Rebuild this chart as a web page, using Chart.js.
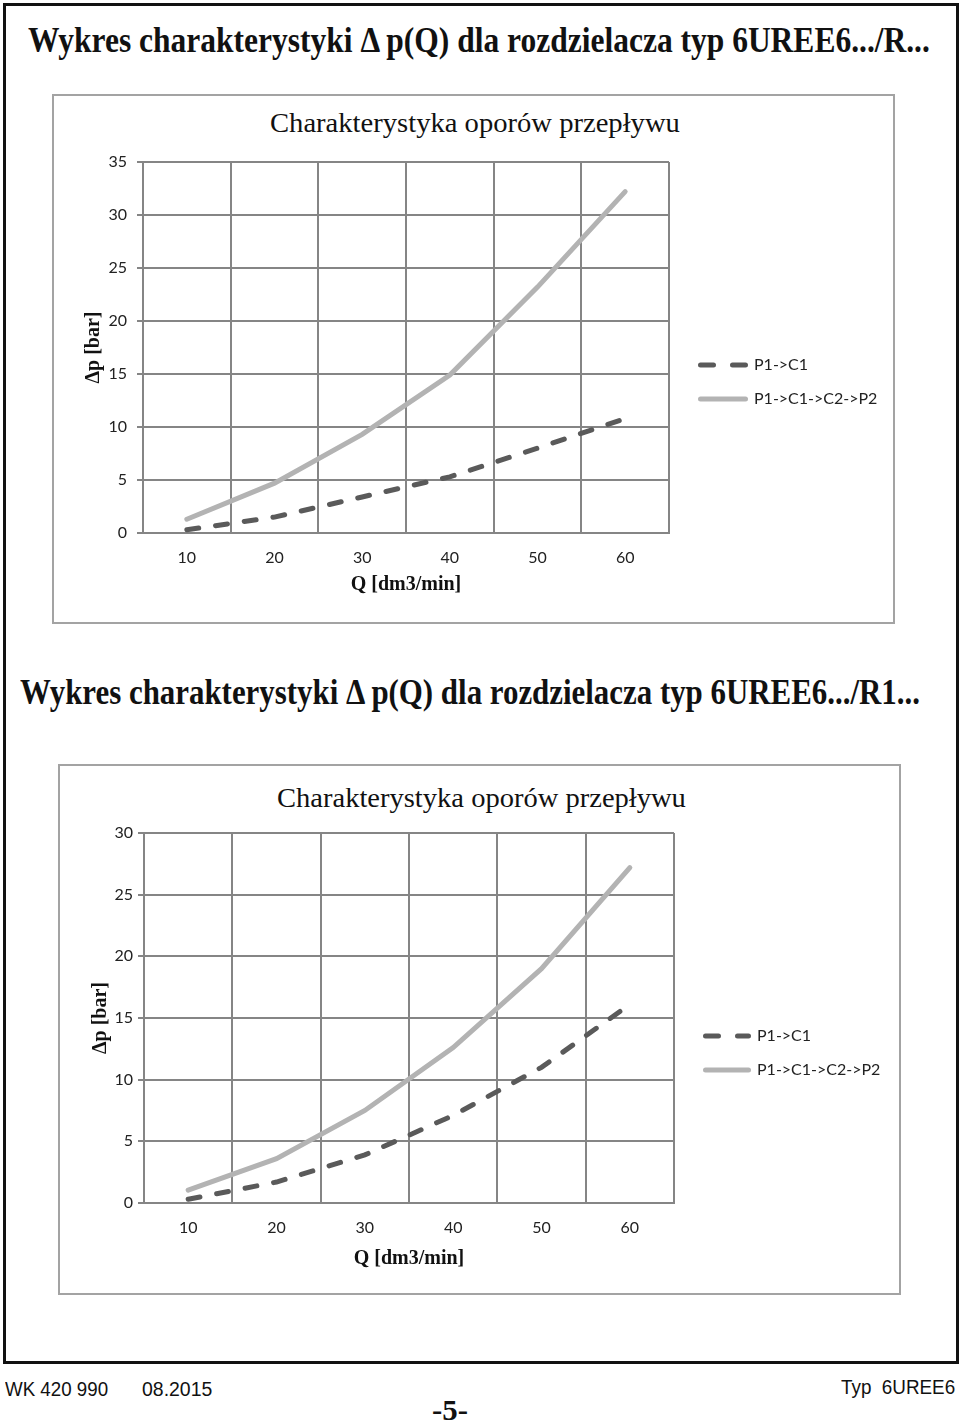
<!DOCTYPE html>
<html>
<head>
<meta charset="utf-8">
<script src="https://cdn.jsdelivr.net/npm/chart.js@4/dist/chart.umd.min.js"></script>
<style>
  body { margin: 0; background: #fff; width: 960px; height: 1422px; position: relative; overflow: hidden; }
  .frame { position: absolute; left: 3px; top: 3px; width: 956px; height: 1361px; border: 3px solid #111; box-sizing: border-box; }
  .box { position: absolute; border: 2px solid #a3a3a3; box-sizing: border-box; }
  .txt { position: absolute; white-space: nowrap; transform-origin: 0 50%; line-height: 1.15; color: #111; }
  .serif { font-family: "Liberation Serif", "DejaVu Serif", serif; }
  .sans { font-family: "Liberation Sans", Arial, sans-serif; }
  canvas { position: absolute; }
</style>
</head>
<body>
<div class="frame"></div>

<div class="txt serif" id="head1" style="font-size:36px;font-weight:bold">Wykres charakterystyki &Delta; p(Q) dla rozdzielacza typ 6UREE6.../R...</div>
<div class="box" style="left:52px;top:94px;width:843px;height:530px"></div>
<div class="txt serif" id="title1" style="font-size:27px">Charakterystyka oporów przepływu</div>
<canvas id="chart1" width="843" height="529" style="left:52px;top:94px"></canvas>

<div class="txt serif" id="head2" style="font-size:36px;font-weight:bold">Wykres charakterystyki &Delta; p(Q) dla rozdzielacza typ 6UREE6.../R1...</div>
<div class="box" style="left:58px;top:764px;width:843px;height:531px"></div>
<div class="txt serif" id="title2" style="font-size:27px">Charakterystyka oporów przepływu</div>
<canvas id="chart2" width="842" height="530" style="left:58px;top:764px"></canvas>

<div class="txt sans" id="foot1" style="font-size:20px">WK 420 990</div>
<div class="txt sans" id="foot2" style="font-size:20px">08.2015</div>
<div class="txt sans" id="foot3" style="font-size:20px">Typ&nbsp; 6UREE6</div>
<div class="txt serif" id="foot4" style="font-size:30px;font-weight:bold">-5-</div>

<script>
// flow rate categories
const flowQ = ['10', '20', '30', '40', '50', '60'];
const seriesNames = ['P1->C1', 'P1->C1->C2->P2'];

// chart 1 - 6UREE6.../R...
const dpR_p1c1 = [0.3, 1.5, 3.4, 5.3, 8.0, 10.8];
const dpR_full = [1.3, 4.7, 9.3, 14.9, 23.2, 32.2];
const yMaxR = 35;

// chart 2 - 6UREE6.../R1...
const dpR1_p1c1 = [0.3, 1.7, 3.9, 7.1, 11.0, 16.1];
const dpR1_full = [1.05, 3.6, 7.5, 12.6, 19.0, 27.2];
const yMaxR1 = 30;
const yStep = 5;

// put a text div between x1..x2, centred on cy (squeezed to fit)
function place(id, x1, x2, cy) {
    const el = document.getElementById(id);
    const w = el.offsetWidth, h = el.offsetHeight;
    el.style.left = x1 + 'px';
    el.style.top = (cy - h / 2) + 'px';
    el.style.transform = 'scaleX(' + ((x2 - x1) / w) + ')';
}
place('head1', 28, 930, 40);
place('title1', 270, 680, 123);
place('head2', 20, 920, 692);
place('title2', 277, 686, 798);
place('foot1', 5, 108, 1389);
place('foot2', 142, 212, 1389);
place('foot3', 841, 955, 1387);
place('foot4', 432, 468, 1410);

// legend on the right side, drawn from dataset styles
const sideLegend = {
    id: 'sideLegend',
    afterDraw(chart, args, opts) {
        const ctx = chart.ctx;
        chart.data.datasets.forEach((ds, i) => {
            const y = opts.y + i * opts.gap;
            ctx.save();
            ctx.strokeStyle = ds.borderColor;
            ctx.lineWidth = ds.borderWidth;
            ctx.lineCap = 'round';
            ctx.setLineDash(ds.borderDash ? [13, 19] : []);
            ctx.beginPath();
            ctx.moveTo(opts.x + 2.5, y);
            ctx.lineTo(opts.x + opts.len - 2.5, y);
            ctx.stroke();
            ctx.setLineDash([]);
            ctx.fillStyle = '#222';
            ctx.font = '16px Lato';
            ctx.textBaseline = 'middle';
            ctx.fillText(ds.label, opts.x + opts.len + 6, y);
            ctx.restore();
        });
    }
};

const gridGray = '#858585';

function makeChart(id, dashed, solid, yMax, geo) {
    return new Chart(document.getElementById(id), {
        type: 'line',
        data: {
            labels: flowQ,
            datasets: [{
                label: seriesNames[0],
                data: dashed,
                borderColor: '#5a5a5a',
                borderWidth: 5,
                borderDash: [12, 17],
                borderCapStyle: 'round',
                pointRadius: 0,
                tension: 0,
                fill: false,
                order: 0
            }, {
                label: seriesNames[1],
                data: solid,
                borderColor: '#b3b3b3',
                borderWidth: 5,
                borderCapStyle: 'round',
                pointRadius: 0,
                tension: 0,
                fill: false,
                order: 1
            }]
        },
        options: {
            responsive: false,
            animation: false,
            devicePixelRatio: 1,
            layout: { padding: { top: geo.top, right: geo.right, left: 0, bottom: 0 } },
            plugins: {
                legend: { display: false },
                tooltip: { enabled: false },
                sideLegend: geo.legend
            },
            scales: {
                x: {
                    type: 'category',
                    offset: true,
                    grid: { offset: true, color: gridGray, lineWidth: 2, drawTicks: false },
                    border: { color: gridGray, width: 2 },
                    ticks: { padding: 15, color: '#222', font: { family: 'Lato', size: 16 } },
                    title: {
                        display: true, text: 'Q [dm3/min]', color: '#111',
                        font: { family: 'Liberation Serif', size: 20, weight: 'bold' },
                        padding: { top: 0, bottom: geo.xTitlePad }
                    },
                    afterFit(s) { s.height = geo.xH; }
                },
                y: {
                    min: 0,
                    max: yMax,
                    grid: { color: gridGray, lineWidth: 2, tickLength: 6 },
                    border: { color: gridGray, width: 2 },
                    ticks: { stepSize: yStep, padding: geo.yTickPad, color: '#222', font: { family: 'Lato', size: 16 } },
                    title: {
                        display: true, text: 'Δp [bar]', color: '#111',
                        font: { family: 'Liberation Serif', size: 20, weight: 'bold' },
                        padding: { top: geo.yTitlePad, bottom: 0 }
                    },
                    afterFit(s) { s.width = geo.yW; }
                }
            }
        },
        plugins: [sideLegend]
    });
}

makeChart('chart1', dpR_p1c1, dpR_full, yMaxR, {
    top: 68, right: 226, xH: 90, yW: 91, xTitlePad: 26, yTitlePad: 30, yTickPad: 10,
    legend: { x: 646, y: 271, gap: 34, len: 50 }
});
makeChart('chart2', dpR1_p1c1, dpR1_full, yMaxR1, {
    top: 69, right: 226, xH: 91, yW: 86, xTitlePad: 23, yTitlePad: 31, yTickPad: 5,
    legend: { x: 645, y: 272, gap: 34, len: 48 }
});
</script>
</body>
</html>
